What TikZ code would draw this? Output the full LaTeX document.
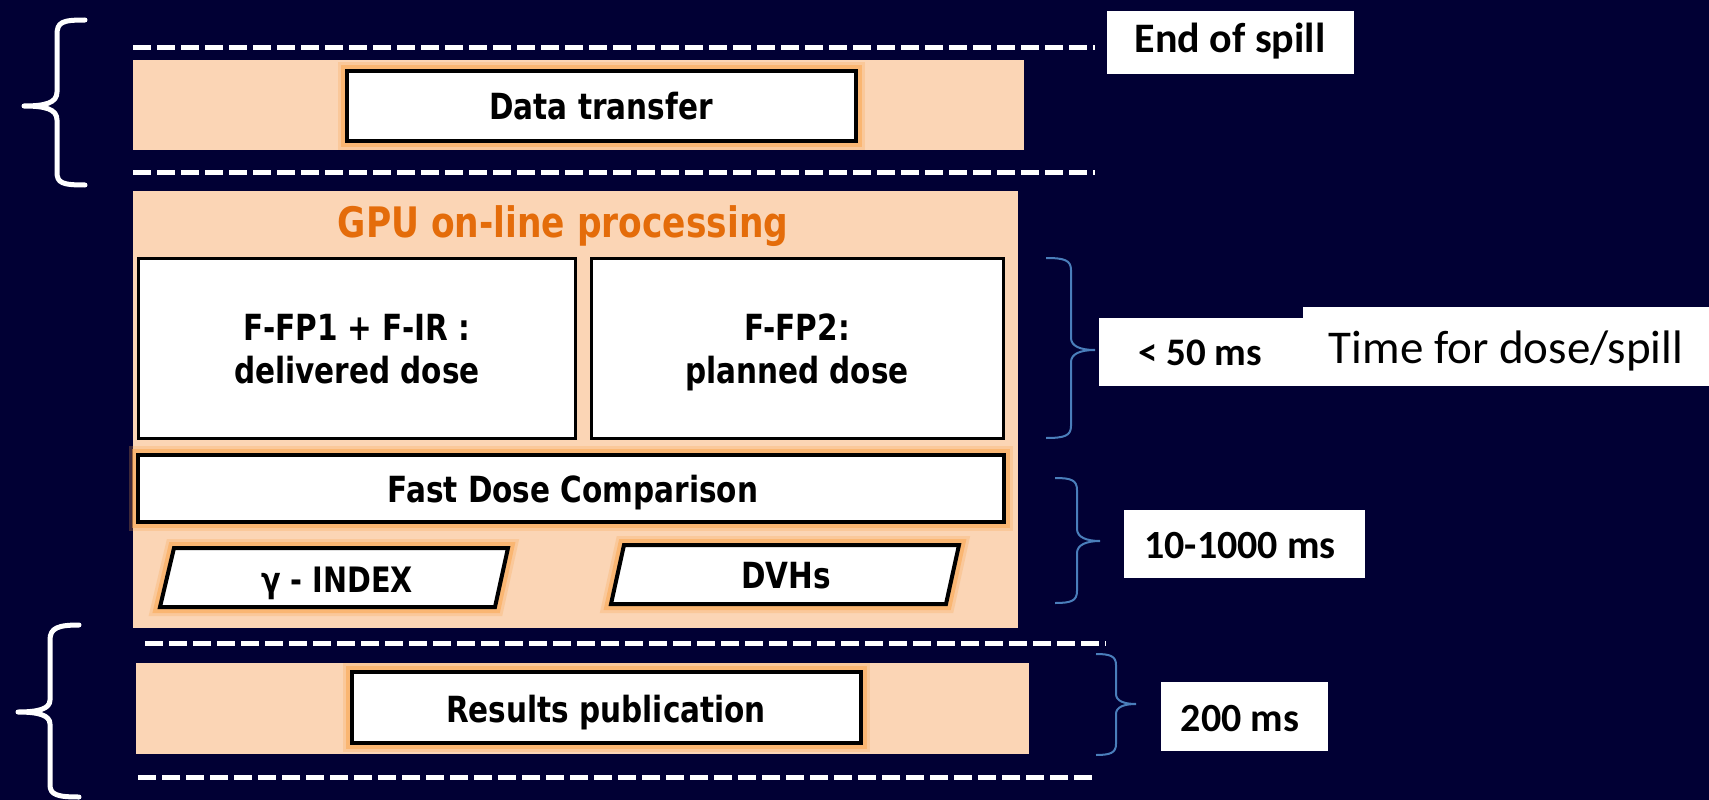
\documentclass[tikz,border=0pt]{standalone}
\usepackage{fontspec}
\newfontfamily\tah[FakeStretch=0.82]{DejaVu Sans}
\newfontfamily\calf{Carlito}
\definecolor{navy}{RGB}{1,0,52}
\definecolor{peach}{RGB}{251,213,181}
\definecolor{orangetxt}{RGB}{228,108,10}
\definecolor{glow}{RGB}{250,165,75}
\definecolor{bluebr}{RGB}{74,126,187}
\tikzset{
  peachbox/.style={fill=peach, draw=none, inner sep=0pt, outer sep=0pt, anchor=north west},
  glowbox/.style={fill=white, draw=black, line width=4pt, anchor=north west, inner sep=0pt, outer sep=0pt,
    preaction={draw=glow, line width=18pt, draw opacity=0.25},
    preaction={draw=glow, line width=12pt, draw opacity=0.5}},
  glowpath/.style={fill=white, draw=black, line width=4pt, line join=miter,
    preaction={draw=glow, line width=18pt, draw opacity=0.25},
    preaction={draw=glow, line width=12pt, draw opacity=0.5}},
  plainbox/.style={fill=white, draw=black, line width=3pt, anchor=north west, inner sep=0pt, outer sep=0pt},
  labbox/.style={fill=white, draw=none, anchor=north west, inner sep=0pt, outer sep=0pt},
  txt/.style={font=\tah\bfseries\fontsize{36}{43}\selectfont, anchor=base, inner sep=0pt},
  caltxt/.style={font=\calf\bfseries\fontsize{40}{48}\selectfont, anchor=base, inner sep=0pt},
  dashline/.style={draw=white, line width=5pt, dash pattern=on 18pt off 6pt},
  wbrace/.style={draw=white, line width=5pt, line cap=round, line join=round},
  bbrace/.style={draw=bluebr, line width=2pt},
}
\begin{document}
\begin{tikzpicture}[x=1pt,y=-1pt]
\fill[navy] (0,0) rectangle (1709,800);
\useasboundingbox (0,0) rectangle (1709,800);

% dashed separators
\coordinate (d1a) at (133,48);  \coordinate (d1b) at (1095,48);
\coordinate (d2a) at (133,172); \coordinate (d2b) at (1095,172);
\coordinate (d3a) at (145,643); \coordinate (d3b) at (1106,643);
\coordinate (d4a) at (138,777); \coordinate (d4b) at (1095,777);
\draw[dashline] (d1a) -- (d1b);
\draw[dashline] (d2a) -- (d2b);
\draw[dashline] (d3a) -- (d3b);
\draw[dashline] (d4a) -- (d4b);

% peach bands
\node[peachbox, minimum width=891pt, minimum height=90pt] (band1) at (133,60) {};
\node[peachbox, minimum width=885pt, minimum height=437pt] (gpu) at (133,191) {};
\node[peachbox, minimum width=893pt, minimum height=91pt] (band3) at (136,663) {};

% boxes
\node[glowbox, minimum width=509pt, minimum height=70pt] (data) at (347,71) {};
\node[plainbox, minimum width=437pt, minimum height=180pt] (ffp1) at (138,258) {};
\node[plainbox, minimum width=412pt, minimum height=180pt] (ffp2) at (591,258) {};
\node[glowbox, minimum width=866pt, minimum height=67pt] (fast) at (138,455) {};
\node[glowbox, minimum width=509pt, minimum height=71pt] (res) at (352,672) {};
\draw[glowpath] (174,548) -- (508,548) -- (495,607) -- (160,607) -- cycle;
\draw[glowpath] (624,545) -- (959,545) -- (946,604) -- (611,604) -- cycle;

% texts
\node[txt] (tdata) at (601,119) {Data transfer};
\node[txt, text=orangetxt, font=\tah\bfseries\fontsize{42}{50}\selectfont] (tgpu) at (563,237) {GPU on-line processing};
\node[txt] (tf1a) at (357,340) {F-FP1 + F-IR :};
\node[txt] (tf1b) at (357,383) {delivered dose};
\node[txt] (tf2a) at (797,340) {F-FP2:};
\node[txt] (tf2b) at (797,383) {planned dose};
\node[txt] (tfast) at (573,502) {Fast Dose Comparison};
\node[txt, font=\tah\bfseries\fontsize{35}{42}\selectfont] (tgam) at (337,592) {γ - INDEX};
\node[txt] (tdvh) at (786,588) {DVHs};
\node[txt] (tres) at (606,722) {Results publication};

% label boxes
\node[labbox, minimum width=247pt, minimum height=63pt] (lend) at (1107,11) {};
\node[labbox, minimum width=204pt, minimum height=68pt] (l50) at (1099,318) {};
\node[labbox, minimum width=406pt, minimum height=79pt] (ltime) at (1303,307) {};
\node[labbox, minimum width=241pt, minimum height=68pt] (l10) at (1124,510) {};
\node[labbox, minimum width=167pt, minimum height=69pt] (l200) at (1161,682) {};
\node[caltxt, font=\calf\bfseries\fontsize{42}{50}\selectfont] (tend) at (1230,53) {End of spill};
\node[caltxt, font=\calf\bfseries\fontsize{39}{46}\selectfont] (t50) at (1200,365) {\textless{} 50 ms};
\node[caltxt, font=\calf\fontsize{47}{56}\selectfont] (ttime) at (1506,363) {Time for dose/spill};
\node[caltxt] (t10) at (1240,558) {10-1000 ms};
\node[caltxt] (t200) at (1240,731) {200 ms};

% white braces
\draw[wbrace] (85,20) .. controls (62,20) and (57,22) .. (57,35) -- (57,92)
  .. controls (57,103) and (45,106) .. (24,106) .. controls (45,106) and (57,109) .. (57,120)
  -- (57,172) .. controls (57,183) and (62,185) .. (85,185);
\draw[wbrace] (79,625) .. controls (58,625) and (50,628) .. (50,640) -- (50,700)
  .. controls (50,709) and (38,712) .. (18,712) .. controls (38,712) and (50,715) .. (50,724)
  -- (50,785) .. controls (50,795) and (58,797) .. (79,797);

% blue braces
\draw[bbrace] (1046,258) .. controls (1064,258) and (1071,260) .. (1071,270) -- (1071,338)
  .. controls (1071,346) and (1080,350) .. (1095,350) .. controls (1080,350) and (1071,354) .. (1071,362)
  -- (1071,426) .. controls (1071,436) and (1064,438) .. (1046,438);
\draw[bbrace] (1055,478) .. controls (1071,478) and (1077,480) .. (1077,490) -- (1077,529)
  .. controls (1077,537) and (1086,541) .. (1100,541) .. controls (1086,541) and (1077,545) .. (1077,553)
  -- (1077,591) .. controls (1077,601) and (1071,603) .. (1055,603);
\draw[bbrace] (1096,654) .. controls (1110,654) and (1116,656) .. (1116,665) -- (1116,694)
  .. controls (1116,701) and (1124,704) .. (1136,704) .. controls (1124,704) and (1116,707) .. (1116,714)
  -- (1116,744) .. controls (1116,753) and (1110,755) .. (1096,755);
\end{tikzpicture}
\end{document}
